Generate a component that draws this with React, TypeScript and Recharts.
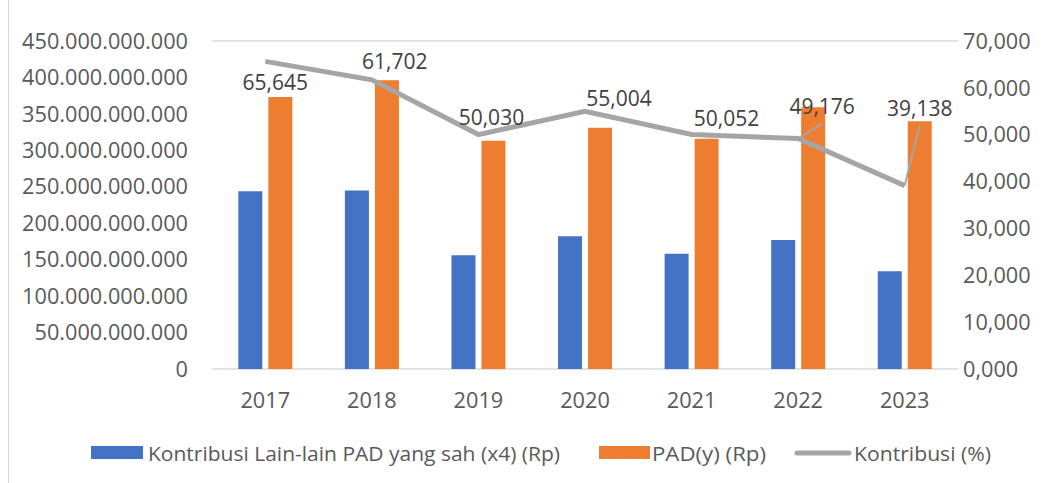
import React from "react";
import {
    ComposedChart, Bar, Line, XAxis, YAxis, CartesianGrid, LabelList,
} from "recharts";

const YEARS = ["2017", "2018", "2019", "2020", "2021", "2022", "2023"];
const KONTRIBUSI_RP = [244e9, 245e9, 156e9, 182e9, 158e9, 177e9, 134e9];
const PAD_RP = [373e9, 396e9, 313e9, 331e9, 316e9, 359e9, 340e9];
const KONTRIBUSI_PCT = [65.645, 61.702, 50.03, 55.004, 50.052, 49.176, 39.138];
const LEFT_TICKS = [0, 50e9, 100e9, 150e9, 200e9, 250e9, 300e9, 350e9, 400e9, 450e9];
const RIGHT_TICKS = [0, 10, 20, 30, 40, 50, 60, 70];
const SERIES_NAMES = ["Kontribusi Lain-lain PAD yang sah (x4) (Rp)", "PAD(y) (Rp)", "Kontribusi (%)"];

// manual label nudges, like the dragged labels in the original
const LABEL_OFFSETS = [
    { dx: 10, dy: 21, leader: false },
    { dx: 23, dy: -19, leader: false },
    { dx: 13, dy: -18, leader: false },
    { dx: 34, dy: -13, leader: false },
    { dx: 35, dy: -16, leader: false },
    { dx: 24, dy: -33, leader: true },
    { dx: 15, dy: -78, leader: true },
];

const data = YEARS.map((year, i) => ({
    year,
    kontribusi: KONTRIBUSI_RP[i],
    pad: PAD_RP[i],
    pct: KONTRIBUSI_PCT[i],
}));

const FONT = "'Open Sans', sans-serif";
const BLUE = "#4472c4";
const ORANGE = "#ed7d31";
const GRAY = "#a5a5a5";
const TICK = { fill: "#595959", fontSize: 21.7, fontFamily: FONT };

const fmtLeft = (v: number) =>
    v === 0 ? "0" : Math.round(v).toString().replace(/\B(?=(\d{3})+(?!\d))/g, ".");
const fmtPct = (v: number) => v.toFixed(3).replace(".", ",");

function PctLabel(props: any) {
    const { x, y, index, value } = props;
    const off = LABEL_OFFSETS[index] ?? { dx: 0, dy: -15, leader: false };
    const lx = x + off.dx;
    const ly = y + off.dy;
    return (
        <g>
            {off.leader && (
                <line x1={x} y1={y} x2={lx} y2={ly + 18} stroke={GRAY} strokeWidth={2} />
            )}
            <text
                x={lx}
                y={ly}
                textAnchor="middle"
                dominantBaseline="central"
                fontFamily={FONT}
                fontSize={21}
                fill="#404040"
            >
                {fmtPct(value)}
            </text>
        </g>
    );
}

function LegendRow() {
    const txt = { fontFamily: FONT, fontSize: 20, fill: "#595959", dominantBaseline: "central" as const };
    return (
        <svg width={1050} height={40} style={{ position: "absolute", left: 0, top: 433 }}>
            <rect x={91} y={13} width={52} height={13} fill={BLUE} />
            <text x={148} y={20} textLength={412} lengthAdjust="spacingAndGlyphs" {...txt}>{SERIES_NAMES[0]}</text>
            <rect x={599} y={13} width={51} height={13} fill={ORANGE} />
            <text x={652} y={20} textLength={114} lengthAdjust="spacingAndGlyphs" {...txt}>{SERIES_NAMES[1]}</text>
            <line x1={797} y1={20} x2={849} y2={20} stroke={GRAY} strokeWidth={5} strokeLinecap="round" />
            <text x={854} y={20} textLength={137} lengthAdjust="spacingAndGlyphs" {...txt}>{SERIES_NAMES[2]}</text>
        </svg>
    );
}

export default function App() {
    return (
        <div style={{ position: "absolute", left: 0, top: 0, width: 1050, height: 483, background: "#fff" }}>
            <div style={{ position: "absolute", left: 8, top: 0, width: 1, height: 483, background: "#d9d9d9" }} />
            <ComposedChart
                width={1050}
                height={483}
                data={data}
                margin={{ top: 41, right: 0, left: 0, bottom: 74 }}
                barCategoryGap="24.7%"
                barGap={6}
            >
                <CartesianGrid vertical={false} stroke="#d9d9d9" strokeWidth={1.5} />
                <XAxis
                    dataKey="year"
                    axisLine={false}
                    tickLine={false}
                    tickSize={0}
                    tickMargin={24}
                    height={40}
                    tick={TICK}
                />
                <YAxis
                    yAxisId="left"
                    domain={[0, 450e9]}
                    ticks={LEFT_TICKS}
                    tickFormatter={fmtLeft}
                    axisLine={false}
                    tickLine={false}
                    tickSize={0}
                    tickMargin={24}
                    width={212}
                    interval={0}
                    tick={TICK}
                />
                <YAxis
                    yAxisId="right"
                    orientation="right"
                    domain={[0, 70]}
                    ticks={RIGHT_TICKS}
                    tickFormatter={fmtPct}
                    axisLine={false}
                    tickLine={false}
                    tickSize={0}
                    tickMargin={5}
                    width={92}
                    interval={0}
                    tick={TICK}
                />
                <Bar yAxisId="left" dataKey="kontribusi" name={SERIES_NAMES[0]} fill={BLUE} isAnimationActive={false} />
                <Bar yAxisId="left" dataKey="pad" name={SERIES_NAMES[1]} fill={ORANGE} isAnimationActive={false} />
                <Line
                    yAxisId="right"
                    dataKey="pct"
                    name={SERIES_NAMES[2]}
                    stroke={GRAY}
                    strokeWidth={5}
                    dot={false}
                    activeDot={false}
                    type="linear"
                    isAnimationActive={false}
                >
                    <LabelList dataKey="pct" content={<PctLabel />} />
                </Line>
            </ComposedChart>
            <LegendRow />
        </div>
    );
}
